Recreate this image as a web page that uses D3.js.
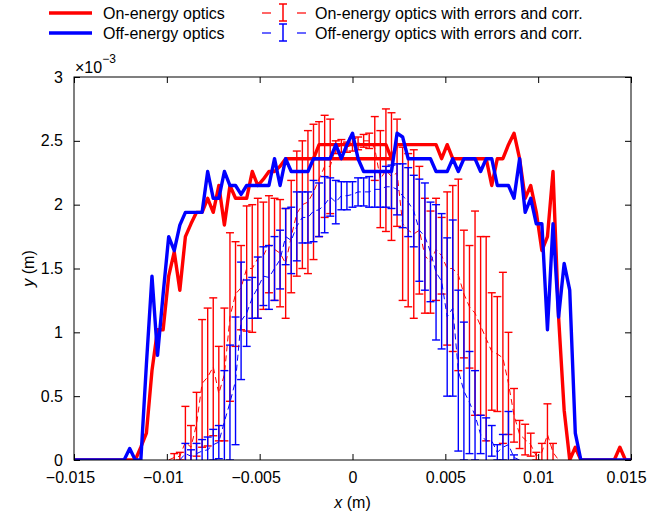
<!DOCTYPE html>
<html><head><meta charset="utf-8">
<script src="https://cdn.jsdelivr.net/npm/d3@7"></script>
<style>
body{margin:0;background:#fff}
text{font-family:"Liberation Sans",Arial,Helvetica,sans-serif;fill:#000}
</style>
</head><body>
<svg id="chart" width="650" height="517"></svg>
<script>
// ---- data (y in units of 1e-3 m) ----
const xBins = [
 -0.0150,-0.0147,-0.0144,-0.0141,-0.0138,-0.0135,-0.0132,-0.0129,-0.0126,-0.0123,
 -0.0120,-0.0117,-0.0114,-0.0111,-0.0108,-0.0105,-0.0102,-0.0099,-0.0096,-0.0093,
 -0.0090,-0.0087,-0.0084,-0.0081,-0.0078,-0.0075,-0.0072,-0.0069,-0.0066,-0.0063,
 -0.0060,-0.0057,-0.0054,-0.0051,-0.0048,-0.0045,-0.0042,-0.0039,-0.0036,-0.0033,
 -0.0030,-0.0027,-0.0024,-0.0021,-0.0018,-0.0015,-0.0012,-0.0009,-0.0006,-0.0003,
  0.0000, 0.0003, 0.0006, 0.0009, 0.0012, 0.0015, 0.0018, 0.0021, 0.0024, 0.0027,
  0.0030, 0.0033, 0.0036, 0.0039, 0.0042, 0.0045, 0.0048, 0.0051, 0.0054, 0.0057,
  0.0060, 0.0063, 0.0066, 0.0069, 0.0072, 0.0075, 0.0078, 0.0081, 0.0084, 0.0087,
  0.0090, 0.0093, 0.0096, 0.0099, 0.0102, 0.0105, 0.0108, 0.0111, 0.0114, 0.0117,
  0.0120, 0.0123, 0.0126, 0.0129, 0.0132, 0.0135, 0.0138, 0.0141, 0.0144, 0.0147,
  0.0150];

const onEnergy = [
 0,0,0,0,0,0,0,0,0,0,
 0,0,0.1,0.21,0.7,1.02,1.02,1.44,1.63,1.33,
 1.75,1.85,1.94,1.94,2.05,1.94,2.15,1.84,2.15,2.05,
 2.05,2.05,2.26,2.15,2.2,2.26,2.26,2.3,2.36,2.36,
 2.36,2.36,2.36,2.36,2.47,2.47,2.47,2.47,2.47,2.47,
 2.47,2.47,2.47,2.47,2.47,2.47,2.47,2.36,2.47,2.47,
 2.47,2.47,2.47,2.47,2.47,2.47,2.36,2.47,2.36,2.36,
 2.36,2.36,2.36,2.36,2.36,2.15,2.36,2.36,2.47,2.56,
 2.36,2.05,2.15,1.94,1.64,1.75,2.26,1.12,0.39,0,
 0.1,0,0,0,0,0,0,0,0.1,0,
 0];
// second on-energy trace piece visible at the 2.36 level
const onEnergyOverlapX = [-0.0021, 0.0021];
const onEnergyOverlapY = [2.36, 2.36];

const offEnergy = [
 0,0,0,0,0,0,0,0,0,0,
 0.09,0,0,0.75,1.44,0.82,1.3,1.75,1.64,1.84,
 1.94,1.94,1.94,1.94,2.26,2.05,2.05,2.26,2.15,2.15,
 2.08,2.15,2.15,2.15,2.15,2.15,2.36,2.15,2.36,2.26,
 2.26,2.26,2.26,2.36,2.36,2.36,2.36,2.47,2.36,2.47,
 2.56,2.36,2.26,2.26,2.26,2.26,2.26,2.26,2.56,2.53,
 2.36,2.36,2.36,2.36,2.36,2.26,2.26,2.26,2.36,2.26,
 2.36,2.36,2.36,2.26,2.36,2.36,2.15,2.15,2.15,2.05,
 2.36,1.94,2.05,1.85,1.85,1.02,1.85,1.12,1.54,1.33,
 0.21,0,0,0,0,0,0,0,0,0,
 0];

// with errors and correction: bins 17..87 (on) and 19..80 (off)
const onErrFirstBin = 17;
const onErrMean = [
 0,0.02,0.03,0.14,0.1,0.28,0.6,0.65,0.73,0.52,
 0.67,1.12,1.3,1.35,1.5,1.5,1.58,1.6,1.69,1.65,
 1.62,1.54,1.75,1.93,2.0,2.02,2.1,2.2,2.3,2.3,
 2.45,2.46,2.45,2.47,2.48,2.5,2.5,2.44,2.2,2.27,
 2.22,2.25,1.85,1.8,1.77,1.8,1.6,1.55,1.65,1.6,
 1.5,1.5,1.45,1.3,1.2,1.15,1.05,0.95,0.85,0.83,
 0.8,0.6,0.35,0.2,0.16,0.12,0.03,0.06,0.2,0.06,
 0];
const onErrDelta = [
 0,0.03,0.03,0.28,0.17,0.25,0.5,0.54,0.54,0.37,
 0.52,0.66,0.41,0.33,0.49,0.5,0.47,0.42,0.38,0.4,
 0.42,0.43,0.44,0.49,0.5,0.56,0.53,0.45,0.4,0.37,
 0.05,0.05,0.04,0.05,0.05,0.05,0.06,0.25,0.38,0.48,
 0.5,0.42,0.6,0.6,0.66,0.5,0.45,0.4,0.4,0.3,
 0.6,0.65,0.75,0.5,0.48,0.8,0.7,0.8,0.46,0.45,
 0.67,0.4,0.21,0.11,0.12,0.09,0.03,0.07,0.24,0.07,
 0];

const offErrFirstBin = 19;
const offErrMean = [
 0,0.05,0.03,0.05,0.07,0.08,0.12,0.14,0.3,0.45,
 0.62,1.09,1.15,1.27,1.35,1.44,1.43,1.5,1.57,1.75,
 1.72,1.83,1.9,1.9,1.95,1.96,2.0,2.06,2.02,2.07,
 2.07,2.08,2.1,2.1,2.1,2.12,2.12,2.14,2.14,2.12,
 2.07,2.02,1.95,1.8,1.75,1.63,1.47,1.4,1.12,1.19,
 0.7,0.54,0.45,0.35,0.2,0.15,0.15,0.06,0.1,0.12,
 0.02,0];
const offErrDelta = [
 0,0.08,0.05,0.08,0.09,0.1,0.12,0.13,0.4,0.45,
 0.5,0.46,0.26,0.16,0.24,0.23,0.25,0.25,0.23,0.22,
 0.26,0.27,0.2,0.2,0.24,0.21,0.22,0.15,0.17,0.11,
 0.11,0.1,0.11,0.11,0.12,0.14,0.14,0.16,0.17,0.2,
 0.25,0.27,0.28,0.4,0.42,0.39,0.53,0.53,0.62,0.69,
 0.63,0.54,0.4,0.35,0.15,0.18,0.12,0.06,0.1,0.26,
 0.02,0];

const xTicks = [-0.015,-0.01,-0.005,0,0.005,0.01,0.015];
const yTicks = [0,0.5,1,1.5,2,2.5,3];
const legendLabels = ["On-energy optics","Off-energy optics",
  "On-energy optics with errors and corr.","Off-energy optics with errors and corr."];

// ---- layout ----
const L=74, R=631, T=77, B=460;
const RED="#ff0000", BLUE="#0000ff";
const svg=d3.select("#chart");
const x=d3.scaleLinear().domain([-0.015,0.015]).range([L,R]);
const y=d3.scaleLinear().domain([0,3]).range([B,T]);

svg.append("defs").append("clipPath").attr("id","clip")
  .append("rect").attr("x",L).attr("y",T).attr("width",R-L).attr("height",B-T);
const plot=svg.append("g").attr("clip-path","url(#clip)");

function errSeries(first, mean, delta, color){
  const pts = mean.map((m,k)=>({x:xBins[first+k], m, d:delta[k]}));
  const g=plot.append("g");
  const bars=pts.filter(p=>p.d>0);
  g.selectAll("line.v").data(bars).join("line")
    .attr("x1",p=>x(p.x)).attr("x2",p=>x(p.x))
    .attr("y1",p=>y(p.m-p.d)).attr("y2",p=>y(p.m+p.d))
    .attr("stroke",color).attr("stroke-width",1.4);
  ["top","bot"].forEach(k=>{
    g.selectAll("line."+k).data(bars).join("line")
      .attr("x1",p=>x(p.x)-4).attr("x2",p=>x(p.x)+4)
      .attr("y1",p=>y(k==="top"?p.m+p.d:p.m-p.d)).attr("y2",p=>y(k==="top"?p.m+p.d:p.m-p.d))
      .attr("stroke",color).attr("stroke-width",1.4);
  });
  g.append("path").datum(pts)
    .attr("d",d3.line().x(p=>x(p.x)).y(p=>y(p.m)))
    .attr("fill","none").attr("stroke",color).attr("stroke-width",1)
    .attr("stroke-dasharray","6,4");
}
errSeries(onErrFirstBin,onErrMean,onErrDelta,RED);
errSeries(offErrFirstBin,offErrMean,offErrDelta,BLUE);

const line=d3.line().x(d=>x(d[0])).y(d=>y(d[1]));
plot.append("path").datum(xBins.map((v,i)=>[v,onEnergy[i]]))
  .attr("d",line).attr("fill","none").attr("stroke",RED).attr("stroke-width",3.4).attr("stroke-linejoin","round");
plot.append("path").datum(onEnergyOverlapX.map((v,i)=>[v,onEnergyOverlapY[i]]))
  .attr("d",line).attr("fill","none").attr("stroke",RED).attr("stroke-width",3.4);
plot.append("path").datum(xBins.map((v,i)=>[v,offEnergy[i]]))
  .attr("d",line).attr("fill","none").attr("stroke",BLUE).attr("stroke-width",3.4).attr("stroke-linejoin","round");

// ---- axes ----
const fmt=d3.format("~g");
const axB=svg.append("g").attr("transform",`translate(0,${B})`)
  .call(d3.axisBottom(x).tickValues(xTicks).tickFormat(fmt).tickSizeInner(-6).tickSizeOuter(0).tickPadding(17));
const axT=svg.append("g").attr("transform",`translate(0,${T})`)
  .call(d3.axisTop(x).tickValues(xTicks).tickFormat("").tickSizeInner(-6).tickSizeOuter(0));
const axL=svg.append("g").attr("transform",`translate(${L},0)`)
  .call(d3.axisLeft(y).tickValues(yTicks).tickFormat(fmt).tickSizeInner(-6).tickSizeOuter(0).tickPadding(17));
const axR=svg.append("g").attr("transform",`translate(${R},0)`)
  .call(d3.axisRight(y).tickValues(yTicks).tickFormat("").tickSizeInner(-6).tickSizeOuter(0));
[axB,axT,axL,axR].forEach(a=>{
  a.select(".domain").remove();
  a.selectAll("line").attr("stroke","#000");
  a.selectAll("text").style("font-size","16px").attr("fill","#000")
    .style("font-family",'"Liberation Sans",Arial,sans-serif');
});
axB.selectAll("text").attr("dy","0.71em").attr("y",12)
  .attr("dx",d=>d===0.015?-5:(d<0?-4:0));
axL.selectAll("text").attr("x",-11);
svg.append("rect").attr("x",L).attr("y",T).attr("width",R-L).attr("height",B-T)
  .attr("fill","none").attr("stroke","#000").attr("stroke-width",1);

// exponent
const ex=svg.append("text").attr("x",75).attr("y",73).style("font-size","16px");
ex.append("tspan").text("\u00d710");
ex.append("tspan").attr("dy",-10).style("font-size","12px").text("\u22123");

// axis labels
const xl=svg.append("text").attr("x",(L+R)/2).attr("y",508).attr("text-anchor","middle").style("font-size","16px");
xl.append("tspan").style("font-style","italic").text("x");
xl.append("tspan").text(" (m)");
const yl=svg.append("text").attr("transform",`translate(34,${(T+B)/2}) rotate(-90)`).attr("text-anchor","middle").style("font-size","16px");
yl.append("tspan").style("font-style","italic").text("y");
yl.append("tspan").text(" (m)");

// ---- legend ----
const lg=svg.append("g");
const rows=[13,33];
[RED,BLUE].forEach((c,i)=>{
  lg.append("line").attr("x1",49).attr("x2",92).attr("y1",rows[i]).attr("y2",rows[i])
    .attr("stroke",c).attr("stroke-width",3.4);
  lg.append("text").attr("x",103).attr("y",rows[i]+6).style("font-size","16px").text(legendLabels[i]);
  const cy=rows[i];
  [[262,271],[297,306]].forEach(s=>lg.append("line").attr("x1",s[0]).attr("x2",s[1]).attr("y1",cy).attr("y2",cy)
    .attr("stroke",c).attr("stroke-width",1.2));
  lg.append("line").attr("x1",283).attr("x2",283).attr("y1",cy-9).attr("y2",cy+8).attr("stroke",c).attr("stroke-width",1.5);
  [cy-9,cy+8].forEach(v=>lg.append("line").attr("x1",279).attr("x2",287).attr("y1",v).attr("y2",v).attr("stroke",c).attr("stroke-width",1.5));
  lg.append("text").attr("x",315).attr("y",cy+6).style("font-size","16px").text(legendLabels[i+2]);
});
</script>
</body></html>
